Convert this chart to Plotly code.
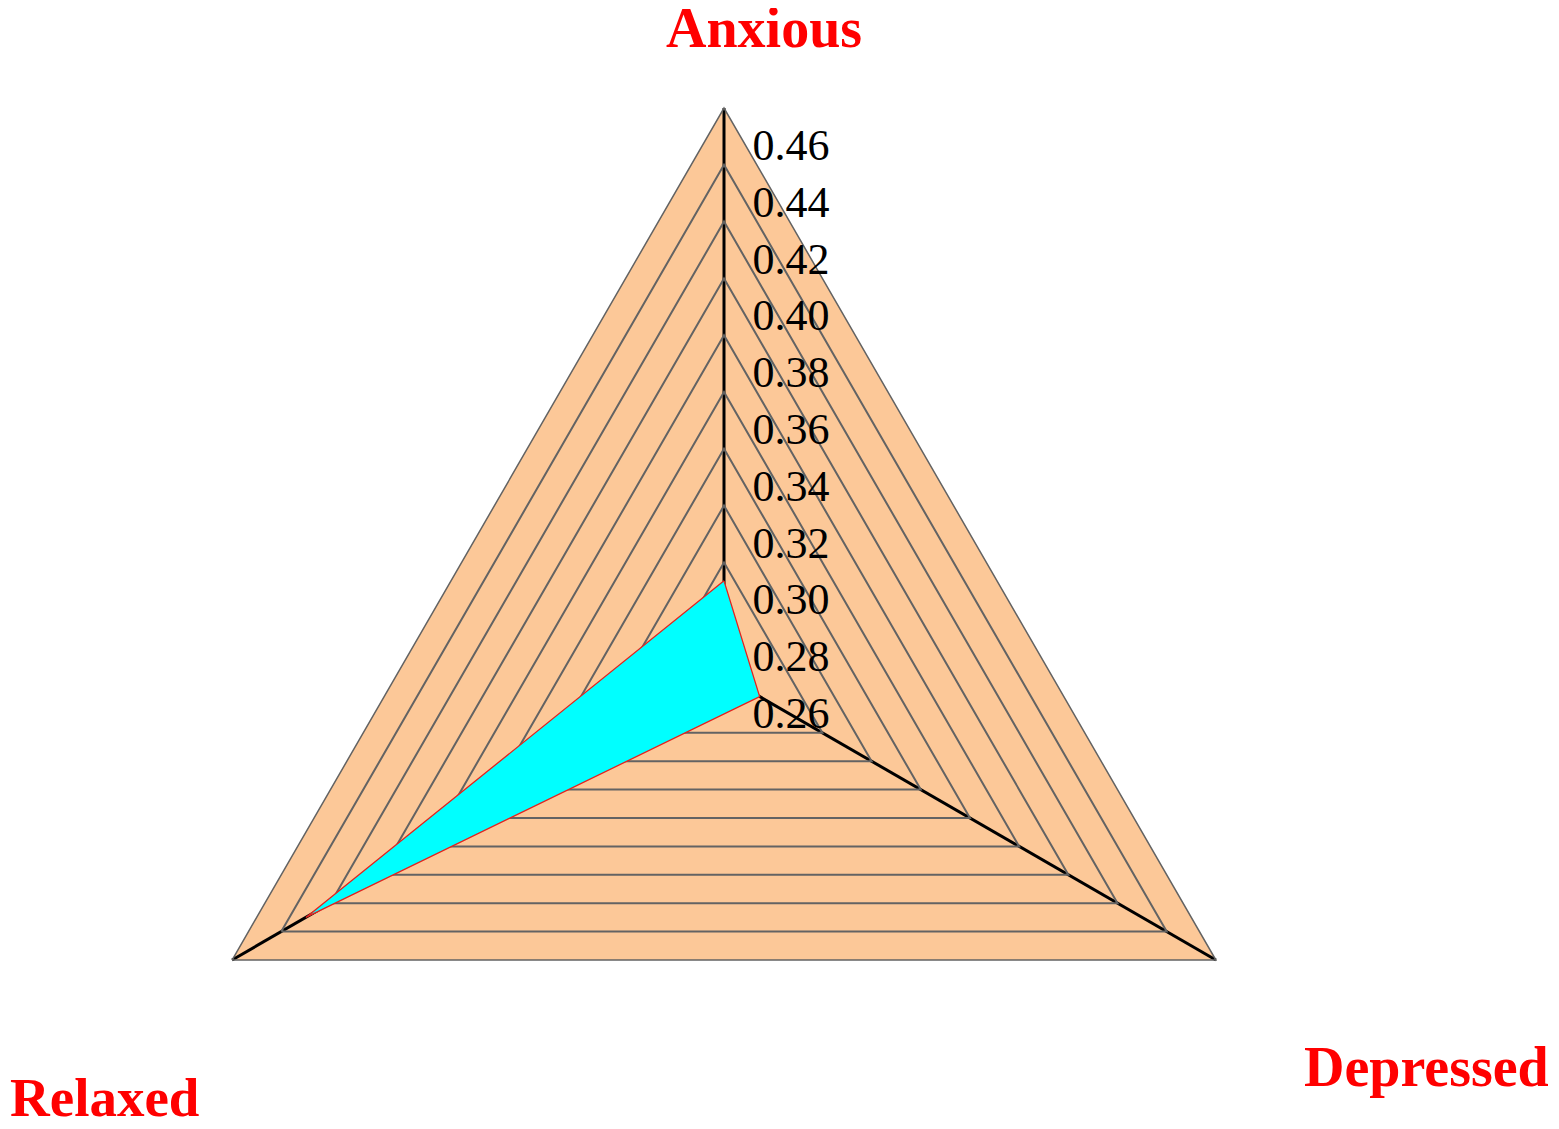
import plotly.graph_objects as go

# ---------------- data ----------------
categories = ["Anxious", "Depressed", "Relaxed"]
values = [0.2935, 0.2745, 0.430]
radial_range = [0.26, 0.46]
grid_vals = [0.30, 0.32, 0.34, 0.36, 0.38, 0.40, 0.42, 0.44, 0.46]
tick_vals = [0.26, 0.28, 0.30, 0.32, 0.34, 0.36, 0.38, 0.40, 0.42, 0.44, 0.46]
tick_text = ["0.26", "0.28", "0.30", "0.32", "0.34", "0.36", "0.38", "0.40", "0.42", "0.44", "0.46"]

# ---------------- layout helpers ----------------
W, H = 1559, 1300
OFF = 8  # page offset of the figure inside the html body


def px_x(x):
    return (x - OFF) / W


def px_y(y):
    return 1 - (y - OFF) / H


cx, cy, R = 724, 676, 568          # main radar centre / radius (page px)
lx, ly = 730, 706                  # label-axis centre (page px)
half_w = R * 0.173648              # sin(10 deg) for the 80..100 sector

fig = go.Figure()

fig.add_trace(go.Scatterpolar(
    r=values + [values[0]],
    theta=categories + [categories[0]],
    mode="lines",
    fill="toself",
    fillcolor="#00FFFF",
    line=dict(color="#E3231E", width=1.3),
    subplot="polar",
    showlegend=False,
    hoverinfo="skip",
))

# invisible helper trace so the label-only polar subplot is created
fig.add_trace(go.Scatterpolar(
    r=tick_vals,
    theta=[90] * len(tick_vals),
    mode="markers",
    marker=dict(size=1, opacity=0),
    subplot="polar2",
    showlegend=False,
    hoverinfo="skip",
))

grid_col = "#636363"

fig.update_layout(
    width=W,
    height=H,
    autosize=False,
    margin=dict(l=0, r=0, t=0, b=0),
    paper_bgcolor="white",
    plot_bgcolor="white",
    polar=dict(
        domain=dict(x=[px_x(cx - R), px_x(cx + R)], y=[px_y(cy + R), px_y(cy - R)]),
        gridshape="linear",
        bgcolor="#FCC898",
        radialaxis=dict(
            range=radial_range,
            tickvals=grid_vals,
            showticklabels=False,
            ticks="",
            showline=False,
            gridcolor=grid_col,
            gridwidth=1.5,
            angle=90,
        ),
        angularaxis=dict(
            rotation=90,
            direction="clockwise",
            showticklabels=False,
            ticks="",
            gridcolor="black",
            gridwidth=2.8,
            showline=True,
            linecolor=grid_col,
            linewidth=1.5,
        ),
    ),
    polar2=dict(
        domain=dict(x=[px_x(lx - half_w), px_x(lx + half_w)], y=[px_y(ly), px_y(ly - R)]),
        sector=[80, 100],
        bgcolor="rgba(0,0,0,0)",
        radialaxis=dict(
            range=radial_range,
            tickvals=tick_vals,
            ticktext=tick_text,
            showgrid=False,
            showline=False,
            ticks="",
            angle=90,
            side="clockwise",
            tickfont=dict(family="Liberation Serif", size=44, color="black"),
        ),
        angularaxis=dict(
            visible=False,
            showgrid=False,
            showline=False,
        ),
    ),
)

label_font = dict(family="Liberation Serif", size=56, color="#FF0000", weight="bold")
label_pos = {
    "Anxious": (763.5, 28, 56),
    "Depressed": (1426.5, 1066.5, 56),
    "Relaxed": (104, 1097, 55),
}
for name in categories:
    x, y, s = label_pos[name]
    fig.add_annotation(
        text=name,
        x=px_x(x), y=px_y(y),
        xref="paper", yref="paper",
        xanchor="center", yanchor="middle",
        showarrow=False,
        font=dict(label_font, size=s),
    )

fig.write_html("out.html")
